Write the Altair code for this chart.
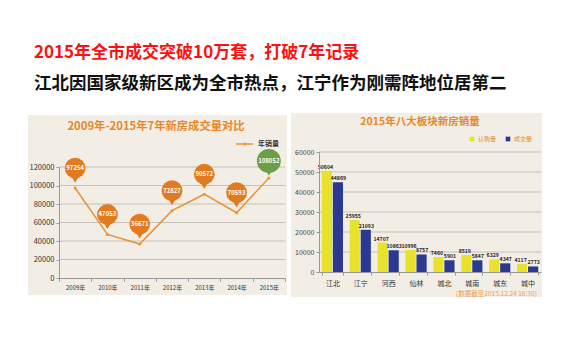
import altair as alt
import pandas as pd

# ---------------- data ----------------
years = ["2009年", "2010年", "2011年", "2012年", "2013年", "2014年", "2015年"]
sales = [97254, 47053, 36671, 72827, 90572, 70593, 108052]

districts = ["江北", "江宁", "河西", "仙林", "城北", "城南", "城东", "城中"]
subscribed = [50604, 25955, 14707, 10996, 7460, 8519, 6329, 4117]
closed = [44869, 21093, 10863, 8757, 5901, 5847, 4347, 2773]
series_names = ["认购量", "成交量"]

left_grid_values = [20000, 40000, 60000, 80000, 100000, 120000]
left_tick_values = [0, 20000, 40000, 60000, 80000, 100000, 120000]
right_grid_values = [10000, 20000, 30000, 40000, 50000, 60000]
right_tick_values = [0, 10000, 20000, 30000, 40000, 50000, 60000]

headline = "2015年全市成交突破10万套，打破7年记录"
subhead = "江北因国家级新区成为全市热点，江宁作为刚需阵地位居第二"
left_title = "2009年-2015年7年新房成交量对比"
right_title = "2015年八大板块新房销量"
line_legend = "年销量"
source_note = "（数据截至2015.12.24 16:30）"

FONT = "Noto Sans CJK SC"
ORANGE = "#E27B1F"
LINE_ORANGE = "#E8923A"
TITLE_ORANGE = "#E8872B"
GREEN = "#6A9F48"
YELLOW = "#E9E22C"
BLUE = "#2B3990"
PANEL = "#F2EEE5"
GRID = "#C4C1BA"

df_line = pd.DataFrame({"year": years, "sales": sales,
                        "label": [str(v) for v in sales]})
df_bar = pd.DataFrame({
    "district": districts * 2,
    "series": [series_names[0]] * len(districts) + [series_names[1]] * len(districts),
    "value": subscribed + closed,
})
df_bar["label"] = df_bar["value"].astype(str)
one = pd.DataFrame({"k": [0]})

# ---------------- left panel ----------------
lx = alt.X("year:N", sort=years, title=None,
           scale=alt.Scale(paddingInner=0, paddingOuter=0),
           axis=alt.Axis(labelFont=FONT, labelFontSize=6, labelColor="#333",
                         labelAngle=0, labelPadding=3, tickBand="extent",
                         tickSize=3, tickColor="#999", domainColor="#999",
                         zindex=1))
ly_axis = alt.Axis(values=left_tick_values, format="d", grid=False, labelFont=FONT,
                   labelFontSize=7.5, labelColor="#333", tickSize=3,
                   tickColor="#999", domainColor="#999", labelPadding=2,
                   zindex=1, title=None)
ly_scale = alt.Scale(domain=[0, 120000], range=[126, 15], nice=False)

page_bg = alt.Chart(one).mark_rect(color="white").encode(
    x=alt.value(-51), x2=alt.value(503), y=alt.value(-144), y2=alt.value(200))
left_bg = alt.Chart(one).mark_rect(color=PANEL).encode(
    x=alt.value(-31), x2=alt.value(228), y=alt.value(-37), y2=alt.value(143))
head1 = alt.Chart(one).mark_text(align="left", baseline="middle", font=FONT,
                                 fontSize=17, fontWeight="bold", color="#FF1010").encode(
    x=alt.value(-25), y=alt.value(-99), text=alt.value(headline))
head2 = alt.Chart(one).mark_text(align="left", baseline="middle", font=FONT,
                                 fontSize=17.5, fontWeight="bold", color="#111").encode(
    x=alt.value(-25), y=alt.value(-68), text=alt.value(subhead))
ltitle = alt.Chart(one).mark_text(align="center", baseline="middle", font=FONT,
                                  fontSize=11.3, fontWeight="bold", color=TITLE_ORANGE).encode(
    x=alt.value(97), y=alt.value(-25), text=alt.value(left_title))
leg_line = alt.Chart(one).mark_rule(color=LINE_ORANGE, strokeWidth=1.5).encode(
    x=alt.value(177), x2=alt.value(194), y=alt.value(-8))
leg_dot = alt.Chart(one).mark_circle(color=LINE_ORANGE, size=10, opacity=1).encode(
    x=alt.value(186), y=alt.value(-8))
leg_text = alt.Chart(one).mark_text(align="left", baseline="middle", font=FONT,
                                    fontSize=7, fontWeight="bold", color="#333").encode(
    x=alt.value(199), y=alt.value(-8), text=alt.value(line_legend))

lgrid = alt.Chart(pd.DataFrame({"v": left_grid_values})).mark_rule(
    color=GRID, strokeWidth=1).encode(
    y=alt.Y("v:Q", scale=ly_scale, axis=ly_axis))

base = alt.Chart(df_line).encode(
    x=lx, y=alt.Y("sales:Q", scale=ly_scale, axis=ly_axis))
line = base.mark_line(color=LINE_ORANGE, strokeWidth=1.5)
dots = base.mark_circle(color=LINE_ORANGE, size=9, opacity=1)

orange = base.transform_filter(alt.datum.year != "2015年")
green = base.transform_filter(alt.datum.year == "2015年")
o_pin = orange.mark_point(shape="triangle-down", filled=True, size=40,
                          color=ORANGE, opacity=1, yOffset=-8)
o_circ = orange.mark_circle(size=430, color=ORANGE, opacity=1, yOffset=-20)
o_lab = orange.mark_text(color="white", font=FONT, fontSize=6,
                         fontWeight="bold", dy=-20).encode(text="label:N")
g_pin = green.mark_point(shape="triangle-down", filled=True, size=40,
                         color=GREEN, opacity=1, yOffset=-5)
g_circ = green.mark_circle(size=570, color=GREEN, opacity=1, yOffset=-17)
g_lab = green.mark_text(color="white", font=FONT, fontSize=6,
                        fontWeight="bold", dy=-17).encode(text="label:N")

left = alt.layer(page_bg, left_bg, head1, head2, ltitle, leg_line, leg_dot,
                 leg_text, lgrid, line, dots, o_pin, o_circ, o_lab,
                 g_pin, g_circ, g_lab).properties(width=226, height=126)

# ---------------- right panel ----------------
rx = alt.X("district:N", sort=districts, title=None,
           scale=alt.Scale(paddingInner=0.24, paddingOuter=0.1),
           axis=alt.Axis(labelFont=FONT, labelFontSize=7, labelColor="#333",
                         labelAngle=0, labelPadding=4, tickBand="extent",
                         tickSize=3, tickColor="#999", domainColor="#999",
                         zindex=1))
ry_scale = alt.Scale(domain=[0, 60000], nice=False)
ry_axis = alt.Axis(values=right_tick_values, format="d", grid=False, labelFont=FONT,
                   labelFontSize=7, labelColor="#444", tickSize=3,
                   tickColor="#999", domainColor="#999", labelPadding=2,
                   zindex=1, title=None)

right_bg = alt.Chart(one).mark_rect(color=PANEL).encode(
    x=alt.value(-28), x2=alt.value(223), y=alt.value(-39), y2=alt.value(145))
rtitle = alt.Chart(one).mark_text(align="center", baseline="middle", font=FONT,
                                  fontSize=10.5, fontWeight="bold", color=TITLE_ORANGE).encode(
    x=alt.value(101), y=alt.value(-30), text=alt.value(right_title))
rsource = alt.Chart(one).mark_text(align="right", baseline="middle", font=FONT,
                                   fontSize=6.5, color="#E9A04E").encode(
    x=alt.value(222), y=alt.value(142), text=alt.value(source_note))
rgrid = alt.Chart(pd.DataFrame({"v": right_grid_values})).mark_rule(
    color=GRID, strokeWidth=1).encode(
    y=alt.Y("v:Q", scale=ry_scale, axis=ry_axis))

bbase = alt.Chart(df_bar).encode(
    x=rx,
    xOffset=alt.XOffset("series:N", sort=series_names,
                        scale=alt.Scale(paddingInner=0.08)),
    y=alt.Y("value:Q", scale=ry_scale, axis=ry_axis),
)
bars = bbase.mark_bar().encode(
    color=alt.Color("series:N",
                    scale=alt.Scale(domain=series_names, range=[YELLOW, BLUE]),
                    legend=alt.Legend(title=None, orient="none", legendX=150,
                                      legendY=-16, direction="horizontal",
                                      symbolType="square", symbolSize=22,
                                      symbolStrokeWidth=0, labelFont=FONT,
                                      labelFontSize=6, labelColor="#E0892B",
                                      columnPadding=8, labelOffset=3)))
lab_a = bbase.transform_filter(alt.datum.series == series_names[0]).mark_text(
    baseline="bottom", dy=-1, dx=-1.5, font=FONT, fontSize=5.2,
    fontWeight="bold", color="#222").encode(text="label:N")
lab_b = bbase.transform_filter(alt.datum.series == series_names[1]).mark_text(
    baseline="bottom", dy=-1, dx=0.5, font=FONT, fontSize=5.2,
    fontWeight="bold", color="#222").encode(text="label:N")

right = alt.layer(right_bg, rtitle, rsource, rgrid, bars, lab_a, lab_b).properties(
    width=222, height=120)

chart = alt.hconcat(left, right, spacing=34, bounds="flush", padding=0).resolve_scale(
    color="independent", x="independent", y="independent"
).configure_view(strokeWidth=0)

chart.save("out.html", embed_options={"renderer": "svg", "actions": False})
